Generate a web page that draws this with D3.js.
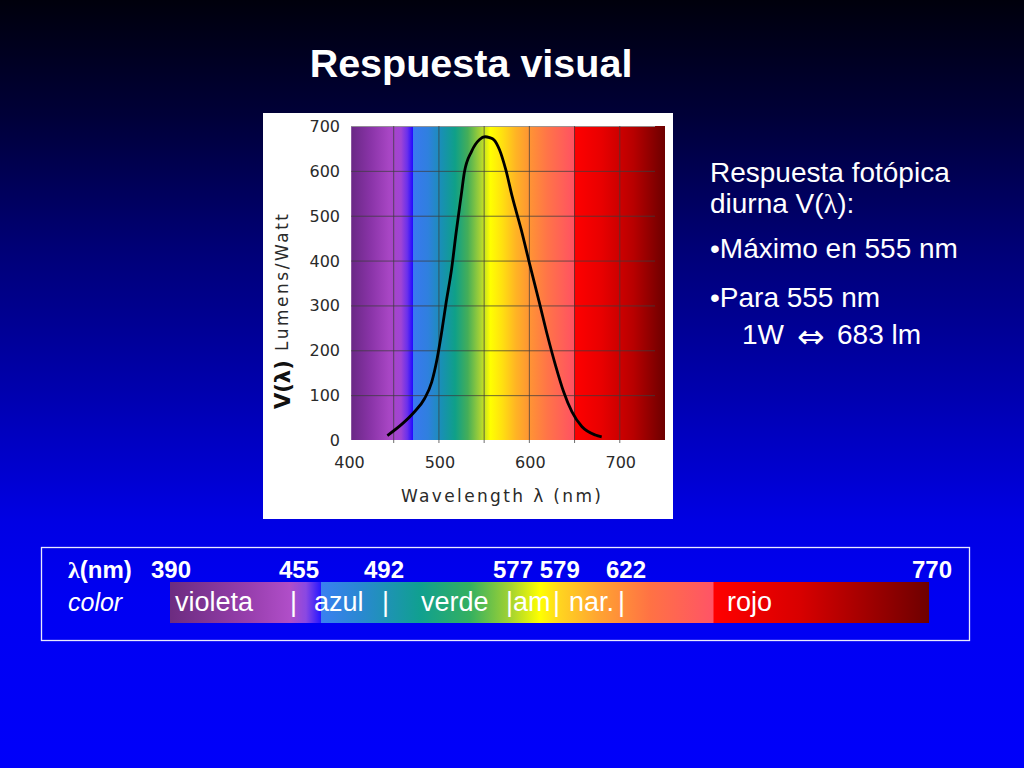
<!DOCTYPE html>
<html>
<head>
<meta charset="utf-8">
<script src="https://cdn.jsdelivr.net/npm/d3@7"></script>
<style>
  html, body { margin: 0; padding: 0; background: #000; }
  svg { display: block; }
</style>
</head>
<body>
<div id="slide"></div>
<script>
// V(lambda) curve (lumens/watt vs wavelength in nm)
const wavelengths = [443, 460, 473, 484, 492, 498, 503, 508, 514, 519, 525, 528, 536, 545, 551, 556, 561, 567, 574, 581, 591, 600, 611, 620, 629, 638, 647, 658, 673, 680];
const lumens      = [10, 37, 63, 92, 129, 181, 240, 307, 381, 462, 551, 595, 643, 670, 676, 674, 669, 647, 602, 543, 469, 395, 307, 233, 166, 107, 63, 30, 11, 7];

const xTicks = [400, 500, 600, 700];
const yTicks = [0, 100, 200, 300, 400, 500, 600, 700];
const gridWavelengths = [450, 500, 550, 600, 650, 700];

// bottom table
const bandLimits = ["390", "455", "492", "577 579", "622", "770"];
const colorNames = ["violeta", "|", "azul", "|", "verde", "|", "am", "|", "nar.", "|", "rojo"];

const W = 1024, H = 768;

const svg = d3.select("#slide").append("svg")
    .attr("width", W)
    .attr("height", H);

const defs = svg.append("defs");

// slide background
const bg = defs.append("linearGradient").attr("id", "bg")
    .attr("x1", 0).attr("y1", 0).attr("x2", 0).attr("y2", 1);
[[0, "#00000c"], [0.15, "#000038"], [0.32, "#000075"], [0.5, "#0000ab"], [0.68, "#0000e4"], [0.78, "#0000f2"], [1, "#0000fa"]]
    .forEach(([o, c]) => bg.append("stop").attr("offset", o).attr("stop-color", c));
svg.append("rect").attr("width", W).attr("height", H).attr("fill", "url(#bg)");

// title
svg.append("text")
    .attr("x", 471).attr("y", 77)
    .attr("text-anchor", "middle")
    .attr("font-family", "Liberation Sans, Arial, sans-serif")
    .attr("font-weight", "bold")
    .attr("font-size", 39.5)
    .attr("fill", "#fff")
    .text("Respuesta visual");

// ---- chart picture ----
svg.append("rect")
    .attr("x", 263).attr("y", 113)
    .attr("width", 410).attr("height", 406)
    .attr("fill", "#fff");

const xScale = d3.scaleLinear().domain([400, 750]).range([348.5, 665]);
const yScale = d3.scaleLinear().domain([0, 700]).range([440, 126]);

const lamMin = 403, lamMax = 750;
const spec = defs.append("linearGradient").attr("id", "spectrum")
    .attr("gradientUnits", "userSpaceOnUse")
    .attr("x1", xScale(lamMin)).attr("x2", xScale(lamMax))
    .attr("y1", 0).attr("y2", 0);
const specStops = [
    [403, "#6a2886"], [425, "#8a34a8"], [445, "#a846c4"], [458, "#a044d4"], [465, "#6a30ec"],
    [471, "#2408ff"], [471.8, "#3a78f0"], [488, "#2f80de"], [503, "#1890b4"], [518, "#0fa088"],
    [532, "#45ae58"], [546, "#a8d234"], [557, "#ffff00"], [570, "#ffe010"], [585, "#ffb424"],
    [600, "#ff9434"], [620, "#ff7448"], [649, "#ff5262"], [649.8, "#ff0000"], [680, "#e80000"],
    [715, "#b80000"], [750, "#6c0000"]
];
specStops.forEach(([l, c]) => spec.append("stop")
    .attr("offset", (l - lamMin) / (lamMax - lamMin))
    .attr("stop-color", c));

svg.append("rect")
    .attr("x", xScale(lamMin)).attr("y", yScale(700))
    .attr("width", xScale(lamMax) - xScale(lamMin))
    .attr("height", yScale(0) - yScale(700))
    .attr("fill", "url(#spectrum)");

// grid
const grid = svg.append("g")
    .attr("stroke", "rgba(60,60,60,0.75)")
    .attr("stroke-width", 1);
grid.selectAll("line.h").data(yTicks.slice(1)).enter().append("line")
    .attr("class", "h")
    .attr("x1", xScale(lamMin)).attr("x2", xScale(739))
    .attr("y1", d => yScale(d) + 0.5).attr("y2", d => yScale(d) + 0.5)
    .attr("stroke", d => d === 700 ? "rgba(150,150,150,0.9)" : null);
grid.selectAll("line.v").data(gridWavelengths).enter().append("line")
    .attr("class", "v")
    .attr("x1", d => xScale(d)).attr("x2", d => xScale(d))
    .attr("y1", yScale(700)).attr("y2", yScale(0) + 3);

// curve
const line = d3.line()
    .x((d, i) => xScale(wavelengths[i]))
    .y(d => yScale(d))
    .curve(d3.curveMonotoneX);
svg.append("path")
    .datum(lumens)
    .attr("fill", "none")
    .attr("stroke", "#000")
    .attr("stroke-width", 2.8)
    .attr("stroke-linejoin", "round")
    .attr("d", line);

// axes labels
const axisFont = "DejaVu Sans, Verdana, sans-serif";
svg.append("g").selectAll("text").data(yTicks).enter().append("text")
    .attr("x", 340)
    .attr("y", d => yScale(d) + 6)
    .attr("text-anchor", "end")
    .attr("font-family", axisFont)
    .attr("font-size", 16)
    .attr("fill", "#2a2a2a")
    .text(d => d);

svg.append("g").selectAll("text").data(xTicks).enter().append("text")
    .attr("x", d => xScale(d) + 1)
    .attr("y", 468)
    .attr("text-anchor", "middle")
    .attr("font-family", axisFont)
    .attr("font-size", 16)
    .attr("fill", "#2a2a2a")
    .text(d => d);

svg.append("text")
    .attr("x", 401).attr("y", 502)
    .attr("textLength", 200).attr("lengthAdjust", "spacing")
    .attr("font-family", axisFont)
    .attr("font-size", 17)
    .attr("fill", "#2a2a2a")
    .text("Wavelength λ (nm)");

svg.append("text")
    .attr("transform", "translate(288,351) rotate(-90)")
    .attr("textLength", 137).attr("lengthAdjust", "spacing")
    .attr("font-family", axisFont)
    .attr("font-size", 17)
    .attr("fill", "#2a2a2a")
    .text("Lumens/Watt");

svg.append("text")
    .attr("transform", "translate(290,409) rotate(-90)")
    .attr("font-family", axisFont)
    .attr("font-weight", "bold")
    .attr("font-size", 21)
    .attr("fill", "#111")
    .text("V(λ)");

// ---- right side text ----
const txtFont = "Liberation Sans, Arial, sans-serif";
const right = svg.append("g")
    .attr("font-family", txtFont)
    .attr("font-size", 28)
    .attr("fill", "#fff");
right.append("text").attr("x", 710).attr("y", 182).text("Respuesta fotópica");
const l2 = right.append("text").attr("x", 710).attr("y", 213);
l2.append("tspan").text("diurna V(");
l2.append("tspan").attr("font-family", "Liberation Serif, serif").text("λ");
l2.append("tspan").text("):");
right.append("text").attr("x", 710).attr("y", 258).text("•Máximo en 555 nm");
right.append("text").attr("x", 710).attr("y", 307).text("•Para 555 nm");
right.append("text").attr("x", 742).attr("y", 344).text("1W");
right.append("text").attr("x", 797).attr("y", 348)
    .attr("font-family", "DejaVu Sans, sans-serif")
    .attr("font-size", 33)
    .text("⇔");
right.append("text").attr("x", 837).attr("y", 344).text("683 lm");

// ---- bottom table ----
svg.append("rect")
    .attr("x", 41.5).attr("y", 547.5)
    .attr("width", 928).attr("height", 93)
    .attr("fill", "none")
    .attr("stroke", "#e8e8ff")
    .attr("stroke-width", 1.3);

const bar = defs.append("linearGradient").attr("id", "bar")
    .attr("gradientUnits", "userSpaceOnUse")
    .attr("x1", 170).attr("x2", 929).attr("y1", 0).attr("y2", 0);
const barStops = [
    [170, "#6c2c80"], [250, "#983fae"], [290, "#b04ec8"], [306, "#8a48e2"], [320.5, "#2a18ff"],
    [321.5, "#3a80f0"], [360, "#2a88d2"], [420, "#10a090"], [470, "#34b060"], [510, "#a2d232"],
    [540, "#ffff00"], [560, "#ffd420"], [600, "#ffa232"], [650, "#ff7244"], [713, "#ff5466"],
    [714, "#ff0000"], [800, "#d80000"], [929, "#6e0000"]
];
barStops.forEach(([px, c]) => bar.append("stop")
    .attr("offset", (px - 170) / (929 - 170))
    .attr("stop-color", c));
svg.append("rect")
    .attr("x", 170).attr("y", 582)
    .attr("width", 759).attr("height", 41)
    .attr("fill", "url(#bar)");

const headRow = svg.append("g")
    .attr("font-family", txtFont)
    .attr("font-weight", "bold")
    .attr("font-size", 24)
    .attr("fill", "#fff");
const lam = headRow.append("text").attr("x", 68).attr("y", 578);
lam.append("tspan").attr("font-family", "Liberation Serif, serif").text("λ");
lam.append("tspan").text("(nm)");
const limitX = [151, 279, 364, 493, 606, 912];
headRow.selectAll("text.lim").data(bandLimits).enter().append("text")
    .attr("class", "lim")
    .attr("x", (d, i) => limitX[i])
    .attr("y", 578)
    .text(d => d);

svg.append("text")
    .attr("x", 68).attr("y", 611)
    .attr("font-family", txtFont)
    .attr("font-style", "italic")
    .attr("font-size", 25)
    .attr("fill", "#fff")
    .text("color");

const nameX = [175, 290, 314, 382, 421, 506, 513, 553, 569, 618, 727];
svg.append("g").selectAll("text").data(colorNames).enter().append("text")
    .attr("x", (d, i) => nameX[i])
    .attr("y", 611)
    .attr("font-family", txtFont)
    .attr("font-size", 27)
    .attr("fill", "#fff")
    .text(d => d);
</script>
</body>
</html>
